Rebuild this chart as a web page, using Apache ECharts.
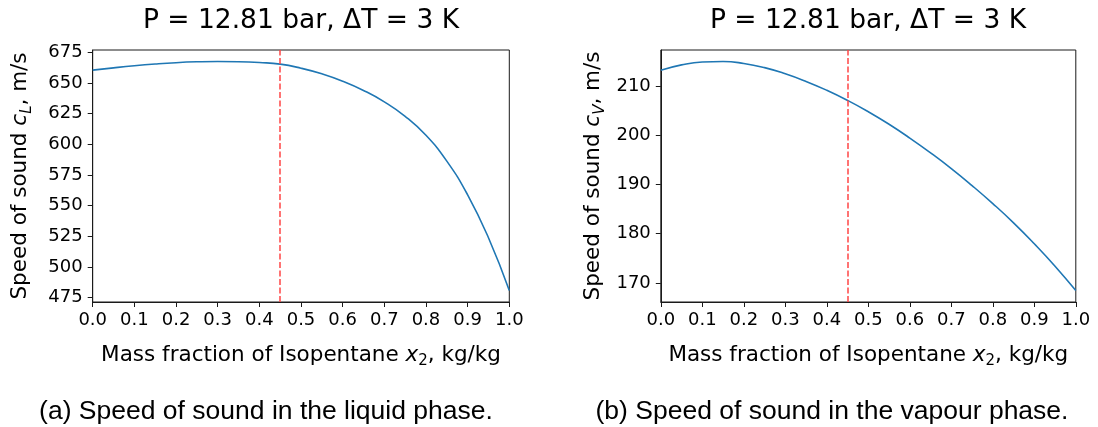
<!DOCTYPE html>
<html>
<head>
<meta charset="utf-8">
<script src="https://cdn.jsdelivr.net/npm/echarts@6/dist/echarts.min.js"></script>
<style>
  html, body { margin: 0; padding: 0; background: #ffffff; }
  #chart { width: 1098px; height: 427px; }
</style>
</head>
<body>
<div id="chart"></div>
<script>
// Mass fraction of isopentane in the mixture, kg/kg
const massFraction = [0.00, 0.05, 0.10, 0.15, 0.20, 0.25, 0.30, 0.35, 0.40, 0.45, 0.50,
                      0.55, 0.60, 0.65, 0.70, 0.75, 0.80, 0.85, 0.90, 0.95, 1.00];
// Speed of sound in the saturated liquid, m/s
const liquidSpeed = [660.4, 662.3, 664.0, 665.4, 666.5, 667.2, 667.5, 667.3, 666.6, 665.3, 662.0,
                     657.4, 651.4, 643.9, 634.6, 622.8, 607.3, 586.3, 558.8, 523.8, 480.8];
// Speed of sound in the saturated vapour, m/s
const vapourSpeed = [213.15, 214.25, 214.85, 214.95, 214.55, 213.7, 212.45, 210.9, 209.1, 207.05, 204.75,
                     202.2, 199.4, 196.4, 193.2, 189.75, 186.1, 182.2, 177.95, 173.4, 168.45];
// Design composition marked on both plots
const designFraction = 0.45;
// Tick labels
const liquidTicks = [475, 500, 525, 550, 575, 600, 625, 650, 675];
const vapourTicks = [170, 180, 190, 200, 210];
const titleText = 'P = 12.81 bar, \u0394T = 3 K';
const captionA = '(a) Speed of sound in the liquid phase.';
const captionB = '(b) Speed of sound in the vapour phase.';

const FONT = 'DejaVu Sans';
const INK = '#000000';
const SPINE = '#1a1a1a';

function pairs(ys) { return massFraction.map((x, i) => [x, ys[i]]); }
// 5 % padding on each side of the data range
function padded(ys) {
  const lo = Math.min(...ys), hi = Math.max(...ys), r = hi - lo;
  return { min: lo - 0.05 * r, max: hi + 0.05 * r };
}

const mathRich = {
  n: { fontFamily: FONT, fontSize: 21.5, color: INK, lineHeight: 28 },
  i: { fontFamily: FONT, fontSize: 21.5, fontStyle: 'italic', color: INK, lineHeight: 28 },
  s: { fontFamily: FONT, fontSize: 15, fontStyle: 'italic', color: INK, lineHeight: 15, verticalAlign: 'bottom' },
  d: { fontFamily: FONT, fontSize: 15, color: INK, lineHeight: 15, verticalAlign: 'bottom' }
};

function xAxisCfg(idx) {
  return {
    type: 'value', gridIndex: idx, min: 0, max: 1, interval: 0.1,
    name: '{n|Mass fraction of Isopentane }{i|x}{d|2}{n|, kg/kg}',
    nameLocation: 'middle', nameGap: 39,
    nameTextStyle: { rich: mathRich },
    axisLine: { show: true, onZero: false, lineStyle: { color: SPINE, width: 1 } },
    axisTick: { show: true, inside: false, length: 5, lineStyle: { color: SPINE, width: 1 } },
    axisLabel: { color: INK, fontFamily: FONT, fontSize: 18, margin: 9,
                 formatter: v => v.toFixed(1), showMinLabel: true, showMaxLabel: true },
    splitLine: { show: false }
  };
}

function yAxisCfg(idx, ys, ticks, sub, gap) {
  const r = padded(ys);
  return {
    type: 'value', gridIndex: idx, min: r.min, max: r.max,
    name: '{n|Speed of sound }{i|c}{s|' + sub + '}{n|, m/s}',
    nameLocation: 'middle', nameRotate: 90, nameGap: gap,
    nameTextStyle: { rich: mathRich },
    axisLine: { show: true, onZero: false, lineStyle: { color: SPINE, width: 1 } },
    axisTick: { show: true, inside: false, length: 5, customValues: ticks, lineStyle: { color: SPINE, width: 1 } },
    axisLabel: { color: INK, fontFamily: FONT, fontSize: 18, margin: 10, customValues: ticks },
    splitLine: { show: false }
  };
}

function curve(idx, ys) {
  return {
    type: 'line', xAxisIndex: idx, yAxisIndex: idx, data: pairs(ys),
    showSymbol: false, smooth: 0.5, animation: false,
    lineStyle: { color: '#1f77b4', width: 1.6 },
    markLine: {
      silent: true, symbol: ['none', 'none'], animation: false, label: { show: false },
      lineStyle: { color: '#ff4545', type: [6, 2.5], width: 1.5 },
      data: [{ xAxis: designFraction }]
    }
  };
}

// titles keep the default 5 px padding, so anchors sit 5 px left of the centre line
const chart = echarts.init(document.getElementById('chart'), null, { renderer: 'canvas' });
chart.setOption({
  backgroundColor: '#ffffff',
  animation: false,
  title: [
    { text: titleText, left: 296, top: 3, textAlign: 'center',
      textStyle: { fontFamily: FONT, fontSize: 26.5, fontWeight: 'normal', color: INK } },
    { text: titleText, left: 863, top: 3, textAlign: 'center',
      textStyle: { fontFamily: FONT, fontSize: 26.5, fontWeight: 'normal', color: INK } },
    { text: captionA, left: 261, top: 393, textAlign: 'center',
      textStyle: { fontFamily: 'Liberation Sans', fontSize: 26.5, fontWeight: 'normal', color: INK } },
    { text: captionB, left: 827, top: 393, textAlign: 'center',
      textStyle: { fontFamily: 'Liberation Sans', fontSize: 26.5, fontWeight: 'normal', color: INK } }
  ],
  grid: [
    { left: 92.7, top: 50, width: 416.6, height: 252, show: true, borderColor: SPINE, borderWidth: 1, containLabel: false },
    { left: 660.8, top: 50, width: 415, height: 252, show: true, borderColor: SPINE, borderWidth: 1, containLabel: false }
  ],
  xAxis: [xAxisCfg(0), xAxisCfg(1)],
  yAxis: [
    yAxisCfg(0, liquidSpeed, liquidTicks, 'L', 58),
    yAxisCfg(1, vapourSpeed, vapourTicks, 'V', 53)
  ],
  series: [curve(0, liquidSpeed), curve(1, vapourSpeed)]
});
</script>
</body>
</html>
